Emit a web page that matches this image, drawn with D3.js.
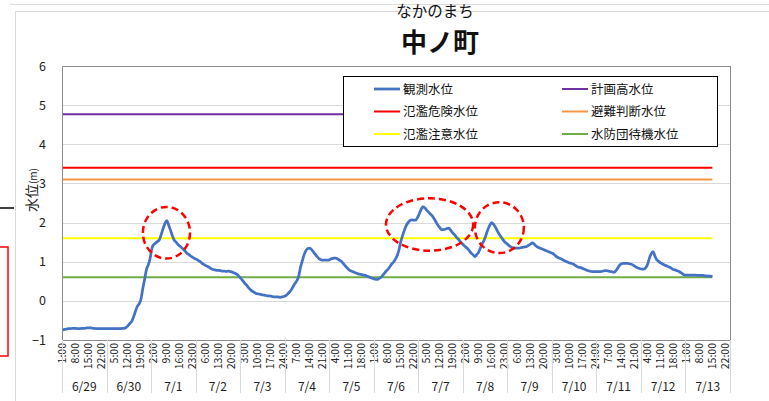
<!DOCTYPE html>
<html>
<head>
<meta charset="utf-8">
<script src="https://cdn.jsdelivr.net/npm/d3@7"></script>
<style>
  body { margin: 0; background: #fff; }
  svg { display: block; font-family: "Noto Sans CJK JP", "Noto Sans", sans-serif; }
</style>
</head>
<body>
<script>
// dates on the x axis (24 hourly readings each, 1:00 .. 24:00)
var days = ["6/29", "6/30", "7/1", "7/2", "7/3", "7/4", "7/5", "7/6",
  "7/7", "7/8", "7/9", "7/10", "7/11", "7/12", "7/13"];
var hoursPerDay = 24;
var labelEvery = 7;

// observed water level (m), hourly
var d0629 = [-0.74,-0.73,-0.72,-0.71,-0.71,-0.70,-0.70,-0.70,-0.71,-0.71,-0.70,-0.70,
  -0.70,-0.69,-0.69,-0.69,-0.70,-0.70,-0.71,-0.71,-0.71,-0.71,-0.71,-0.71];
var d0630 = [-0.71,-0.71,-0.71,-0.71,-0.71,-0.71,-0.71,-0.71,-0.70,-0.70,-0.68,-0.64,
  -0.58,-0.53,-0.42,-0.28,-0.15,-0.08,0.03,0.30,0.54,0.80,0.92,1.09];
var d0701 = [1.35,1.44,1.48,1.52,1.56,1.70,1.85,1.98,2.05,1.93,1.80,1.66,
  1.55,1.50,1.44,1.40,1.36,1.31,1.26,1.21,1.18,1.14,1.11,1.08];
var d0702 = [1.06,1.03,1.00,0.96,0.93,0.90,0.88,0.85,0.82,0.80,0.79,0.78,
  0.78,0.77,0.76,0.76,0.75,0.76,0.75,0.74,0.72,0.70,0.67,0.62];
var d0703 = [0.57,0.51,0.45,0.40,0.34,0.29,0.25,0.22,0.19,0.18,0.17,0.16,
  0.15,0.14,0.13,0.13,0.12,0.11,0.10,0.10,0.10,0.09,0.10,0.11];
var d0704 = [0.13,0.17,0.22,0.28,0.36,0.44,0.51,0.62,0.85,1.02,1.18,1.29,
  1.34,1.35,1.31,1.25,1.19,1.13,1.08,1.05,1.04,1.04,1.04,1.04];
var d0705 = [1.06,1.08,1.09,1.09,1.07,1.04,1.01,0.96,0.90,0.85,0.80,0.77,
  0.75,0.73,0.71,0.69,0.68,0.67,0.66,0.65,0.63,0.61,0.59,0.57];
var d0706 = [0.56,0.55,0.56,0.59,0.63,0.69,0.75,0.80,0.86,0.93,0.98,1.05,
  1.14,1.28,1.50,1.66,1.80,1.92,2.00,2.05,2.07,2.06,2.06,2.12];
var d0707 = [2.22,2.33,2.41,2.38,2.32,2.27,2.22,2.17,2.10,2.02,1.94,1.88,
  1.82,1.82,1.83,1.85,1.86,1.80,1.74,1.69,1.63,1.58,1.52,1.47];
var d0708 = [1.42,1.38,1.34,1.28,1.22,1.18,1.13,1.18,1.24,1.35,1.46,1.55,
  1.68,1.82,1.93,2.00,1.96,1.89,1.80,1.71,1.64,1.57,1.51,1.47];
var d0709 = [1.43,1.39,1.36,1.35,1.35,1.35,1.35,1.36,1.37,1.38,1.39,1.42,
  1.45,1.48,1.45,1.40,1.37,1.35,1.33,1.31,1.29,1.27,1.25,1.23];
var d0710 = [1.21,1.17,1.13,1.10,1.08,1.06,1.03,1.01,0.99,0.97,0.96,0.94,
  0.91,0.88,0.86,0.85,0.83,0.81,0.79,0.77,0.76,0.75,0.75,0.75];
var d0711 = [0.75,0.75,0.75,0.76,0.77,0.77,0.76,0.75,0.74,0.73,0.77,0.84,
  0.91,0.95,0.96,0.96,0.96,0.95,0.94,0.92,0.89,0.86,0.84,0.82];
var d0712 = [0.81,0.81,0.84,0.92,1.08,1.20,1.26,1.15,1.05,1.01,0.97,0.95,
  0.92,0.90,0.88,0.86,0.83,0.80,0.79,0.77,0.75,0.72,0.69,0.66];
var d0713 = [0.66,0.66,0.66,0.66,0.66,0.66,0.65,0.65,0.65,0.65,0.64,0.64,
  0.63,0.63,0.62];

// reference levels (m)
var levelNames  = ["観測水位", "計画高水位", "氾濫危険水位", "避難判断水位", "氾濫注意水位", "水防団待機水位"];
var levelColors = ["#4472C4", "#7030A0", "#FF0000", "#F79646", "#FFFF00", "#70AD47"];
var levelValues = [null, 4.77, 3.40, 3.10, 1.60, 0.60];

// red dashed marks round the peaks: centre hour index / level, radius in hours / metres
var markIndex = [55.8, 197.6, 235.2];
var markLevel = [1.74, 1.95, 1.87];
var markRadI  = [12.7, 23.5, 13.2];
var markRadV  = [0.66, 0.67, 0.65];

var yTicks = [-1, 0, 1, 2, 3, 4, 5, 6];

var observed = [].concat(d0629, d0630, d0701, d0702, d0703, d0704, d0705, d0706,
  d0707, d0708, d0709, d0710, d0711, d0712, d0713);

var W = 769, H = 401;
var plot = {left: 62, right: 730, top: 66, bottom: 340};
var nCat = days.length * hoursPerDay;

var svg = d3.select("body").append("svg")
    .attr("width", W)
    .attr("height", H);

// spreadsheet leftovers around the chart
svg.append("line").attr("x1", 10).attr("x2", W).attr("y1", 4.5).attr("y2", 4.5)
    .attr("stroke", "#dcdcdc");
svg.append("path").attr("d", "M15.5," + H + "V11.5H" + W)
    .attr("fill", "none").attr("stroke", "#d9d9d9");
svg.append("line").attr("x1", 0).attr("x2", 14).attr("y1", 208).attr("y2", 208)
    .attr("stroke", "#000").attr("stroke-width", 1.5);
svg.append("rect").attr("x", -5).attr("y", 247).attr("width", 13).attr("height", 109)
    .attr("fill", "none").attr("stroke", "#ff0000").attr("stroke-width", 1.5);

var x = d3.scaleBand().domain(d3.range(nCat)).range([plot.left, plot.right]).paddingInner(0).paddingOuter(0);
var xc = function(i) { return x.step() * (i + 0.5) + plot.left; };
var y = d3.scaleLinear().domain([-1, 6]).range([plot.bottom, plot.top]);

// gridlines
svg.append("g").selectAll("line")
  .data(yTicks)
  .enter().append("line")
    .attr("x1", plot.left).attr("x2", plot.right)
    .attr("y1", function(d) { return Math.round(y(d)) + 0.5; })
    .attr("y2", function(d) { return Math.round(y(d)) + 0.5; })
    .attr("stroke", "#d9d9d9");

// plot frame
svg.append("rect")
    .attr("x", plot.left + 0.5).attr("y", plot.top + 0.5)
    .attr("width", plot.right - plot.left).attr("height", plot.bottom - plot.top)
    .attr("fill", "none").attr("stroke", "#8c8c8c");

// y axis labels
svg.append("g").selectAll("text")
  .data(yTicks)
  .enter().append("text")
    .attr("x", 46)
    .attr("y", function(d) { return y(d) + 4.5; })
    .attr("text-anchor", "end")
    .attr("font-size", 12.5)
    .attr("fill", "#222")
    .text(function(d) { return d < 0 ? "\u2212" + Math.abs(d) : d; });

// y title
var yt = svg.append("text")
    .attr("transform", "translate(37,190) rotate(-90)")
    .attr("text-anchor", "middle")
    .attr("fill", "#222");
yt.append("tspan").attr("font-size", 14).text("水位");
yt.append("tspan").attr("font-size", 10).text("(m)");

// x axis: hour labels every 7 hours, day groups below
var tickIdx = d3.range(0, nCat, labelEvery);
svg.append("g").selectAll("text")
  .data(tickIdx)
  .enter().append("text")
    .attr("transform", function(i) { return "translate(" + (xc(i) + 3.5) + ",343) rotate(-90)"; })
    .attr("text-anchor", "end")
    .attr("font-size", 10.5)
    .attr("fill", "#222")
    .text(function(i) { return (i % hoursPerDay + 1) + ":00"; });

svg.append("g").selectAll("line")
  .data(d3.range(days.length + 1))
  .enter().append("line")
    .attr("x1", function(d) { return Math.round(x(d * hoursPerDay) || plot.right) + 0.5; })
    .attr("x2", function(d) { return Math.round(x(d * hoursPerDay) || plot.right) + 0.5; })
    .attr("y1", plot.bottom).attr("y2", 393)
    .attr("stroke", "#d9d9d9");

svg.append("g").selectAll("text")
  .data(days)
  .enter().append("text")
    .attr("x", function(d, k) { return xc(k * hoursPerDay + hoursPerDay / 2 - 0.5); })
    .attr("y", 391)
    .attr("text-anchor", "middle")
    .attr("font-size", 12)
    .attr("fill", "#222")
    .text(function(d) { return d; });

// reference level lines
var lastIdx = observed.length - 1;
svg.append("g").selectAll("line")
  .data(d3.range(1, levelValues.length))
  .enter().append("line")
    .attr("x1", plot.left + 1).attr("x2", xc(lastIdx))
    .attr("y1", function(k) { return y(levelValues[k]); })
    .attr("y2", function(k) { return y(levelValues[k]); })
    .attr("stroke", function(k) { return levelColors[k]; })
    .attr("stroke-width", 2);

// observed line
var line = d3.line()
    .x(function(d, i) { return xc(i); })
    .y(function(d) { return y(d); })
    .curve(d3.curveMonotoneX);

svg.append("path")
    .datum(observed)
    .attr("d", line)
    .attr("fill", "none")
    .attr("stroke", levelColors[0])
    .attr("stroke-width", 2.75)
    .attr("stroke-linejoin", "round");

// dashed marks
svg.append("g").selectAll("ellipse")
  .data(d3.range(markIndex.length))
  .enter().append("ellipse")
    .attr("cx", function(k) { return xc(markIndex[k]); })
    .attr("cy", function(k) { return y(markLevel[k]); })
    .attr("rx", function(k) { return xc(markIndex[k] + markRadI[k]) - xc(markIndex[k]); })
    .attr("ry", function(k) { return y(markLevel[k] - markRadV[k]) - y(markLevel[k]); })
    .attr("fill", "none")
    .attr("stroke", "#ff0000")
    .attr("stroke-width", 2.5)
    .attr("stroke-dasharray", "7,4");

// title
svg.append("text")
    .attr("x", 435).attr("y", 17)
    .attr("text-anchor", "middle")
    .attr("font-size", 15.5)
    .attr("fill", "#111")
    .text("なかのまち");
svg.append("text")
    .attr("x", 440).attr("y", 52)
    .attr("text-anchor", "middle")
    .attr("font-size", 26)
    .attr("font-weight", "bold")
    .attr("fill", "#111")
    .text("中ノ町");

// legend
var lg = svg.append("g");
lg.append("rect")
    .attr("x", 343.5).attr("y", 76.5).attr("width", 374).attr("height", 70)
    .attr("fill", "#fff").attr("stroke", "#000");
var legendX = [374, 562];
var legendY = [89, 111.5, 134];
var item = lg.selectAll("g.item")
  .data(d3.range(levelNames.length))
  .enter().append("g")
    .attr("class", "item")
    .attr("transform", function(k) {
      return "translate(" + legendX[k % 2] + "," + legendY[Math.floor(k / 2)] + ")";
    });
item.append("line")
    .attr("x1", 0).attr("x2", 26)
    .attr("stroke", function(k) { return levelColors[k]; })
    .attr("stroke-width", function(k) { return k === 0 ? 2.75 : 2; });
item.append("text")
    .attr("x", 29).attr("y", 4.5)
    .attr("font-size", 12.5)
    .attr("fill", "#111")
    .text(function(k) { return levelNames[k]; });
</script>
</body>
</html>
